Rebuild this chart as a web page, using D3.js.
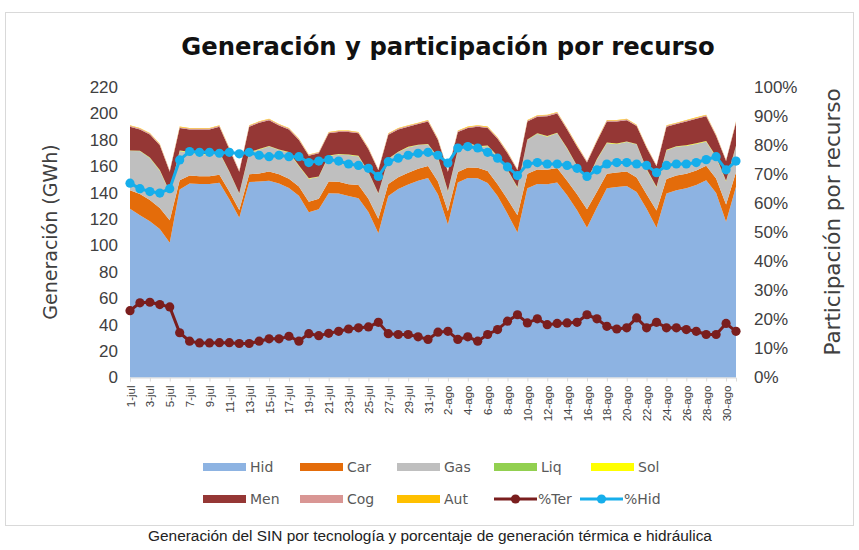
<!DOCTYPE html>
<html>
<head>
  <meta charset="utf-8">
  <title>Generación y participación por recurso</title>
  <style>
    body { margin: 0; background: #fff; }
    .tick text { fill: #404040; }
  </style>
  <script src="https://d3js.org/d3.v7.min.js"></script>
</head>
<body>
  <div id="chart"></div>
  <script>
    const days = [
      "1-jul","2-jul","3-jul","4-jul","5-jul","6-jul","7-jul","8-jul","9-jul","10-jul",
      "11-jul","12-jul","13-jul","14-jul","15-jul","16-jul","17-jul","18-jul","19-jul","20-jul",
      "21-jul","22-jul","23-jul","24-jul","25-jul","26-jul","27-jul","28-jul","29-jul","30-jul",
      "31-jul","1-ago","2-ago","3-ago","4-ago","5-ago","6-ago","7-ago","8-ago","9-ago",
      "10-ago","11-ago","12-ago","13-ago","14-ago","15-ago","16-ago","17-ago","18-ago","19-ago",
      "20-ago","21-ago","22-ago","23-ago","24-ago","25-ago","26-ago","27-ago","28-ago","29-ago",
      "30-ago","31-ago"
    ];

    // GWh por recurso
    const hid = [127.8,122.9,118.4,112.4,102.1,142.3,147.0,146.5,146.5,147.5,
      134.9,120.9,148.0,148.4,149.0,146.9,143.6,137.6,125.1,127.4,
      139.5,139.3,137.4,135.8,125.3,109.3,137.5,142.7,146.1,149.0,
      151.1,138.5,115.9,147.7,151.1,150.9,147.3,137.4,124.0,109.8,
      143.3,146.5,146.3,147.7,138.0,126.7,113.5,128.7,143.3,144.3,
      145.0,140.4,127.8,113.5,139.4,141.9,143.3,145.8,149.3,139.8,
      118.0,144.5];
    const car = [14,16,16,16,17,7,6,6,6,6,
      6,6,6,6,7,7,7,7,8,8,
      9,9,9,10,10,11,9,9,9,9,
      9,10,10,8,8,8,9,9,11,13,
      11,11,11,11,11,12,14,12,11,11,
      11,11,11,13,11,11,11,11,11,11,
      13,11];
    const gas = [29.7,32.4,31.7,28.2,21.0,22.1,17.4,16.3,16.3,16.7,
      14.7,12.2,16.1,18.1,18.9,18.3,19.6,15.4,17.3,16.4,
      19.1,20.5,22.0,21.6,20.1,18.8,18.7,18.8,19.1,17.8,
      16.3,18.0,14.8,16.3,18.4,15.7,18.9,20.8,22.0,20.9,
      25.5,27.0,25.0,26.2,24.3,21.2,21.2,24.2,23.1,21.4,
      22.3,25.0,18.7,17.4,21.5,21.8,21.0,20.1,18.3,16.0,
      17.5,19.6];
    const liq = [0.2,0.2,0.3,0.2,0.2,0.2,0.2,0.2,0.2,0.2,
      0.2,0.2,0.2,0.2,0.2,0.2,0.2,0.2,0.2,0.2,
      0.2,0.2,0.2,0.2,0.2,0.2,0.2,0.2,0.2,0.2,
      0.2,0.2,0.2,0.2,0.2,0.2,0.2,0.2,0.2,0.2,
      0.2,0.2,0.2,0.2,0.2,0.2,0.2,0.2,0.2,0.2,
      0.2,0.2,0.2,0.2,0.2,0.2,0.2,0.2,0.2,0.2,
      0.2,0.2];
    const sol = [0.3,0.3,0.3,0.3,0.3,0.3,0.3,0.3,0.3,0.3,
      0.3,0.3,0.3,0.3,0.3,0.3,0.3,0.3,0.3,0.3,
      0.3,0.3,0.3,0.3,0.3,0.3,0.3,0.3,0.3,0.3,
      0.3,0.3,0.3,0.3,0.3,0.3,0.3,0.3,0.3,0.3,
      0.3,0.3,0.3,0.3,0.3,0.3,0.3,0.3,0.3,0.3,
      0.3,0.3,0.3,0.3,0.3,0.3,0.3,0.3,0.3,0.3,
      0.3,0.3];
    const men = [17.9,16.1,17.3,18.8,15.3,17.0,17.0,18.6,18.6,19.2,
      16.8,16.3,19.3,19.9,19.5,18.2,17.2,19.4,17.0,17.6,
      16.8,16.6,17.0,17.0,17.0,17.3,18.2,16.9,15.2,15.6,
      17.0,12.9,14.7,13.4,10.9,14.8,13.2,13.2,12.4,12.7,
      13.6,12.5,15.1,14.5,14.1,14.5,13.7,13.5,16.0,16.7,
      16.1,13.5,15.9,15.5,17.5,16.7,18.1,18.5,18.8,15.6,
      14.9,17.3];
    const cog = [0.7,0.7,0.7,0.7,0.6,0.7,0.7,0.7,0.7,0.7,
      0.7,0.6,0.7,0.7,0.7,0.7,0.7,0.7,0.6,0.6,
      0.7,0.7,0.7,0.7,0.7,0.6,0.7,0.7,0.7,0.7,
      0.7,0.7,0.6,0.7,0.7,0.7,0.7,0.7,0.7,0.6,
      0.7,0.7,0.7,0.7,0.7,0.7,0.6,0.6,0.7,0.7,
      0.7,0.7,0.7,0.6,0.7,0.7,0.7,0.7,0.7,0.7,
      0.6,0.7];
    const aut = [0.4,0.4,0.4,0.4,0.3,0.4,0.4,0.4,0.4,0.4,
      0.4,0.3,0.4,0.4,0.4,0.4,0.4,0.4,0.3,0.3,
      0.4,0.4,0.4,0.4,0.4,0.3,0.4,0.4,0.4,0.4,
      0.4,0.4,0.3,0.4,0.4,0.4,0.4,0.4,0.4,0.3,
      0.4,0.4,0.4,0.4,0.4,0.4,0.3,0.3,0.4,0.4,
      0.4,0.4,0.4,0.3,0.4,0.4,0.4,0.4,0.4,0.4,
      0.3,0.4];

    // participación (%)
    const pctTer = [23.0,25.7,25.9,25.1,24.3,15.4,12.5,11.9,11.9,12.0,
      12.0,11.7,11.7,12.5,13.3,13.3,14.2,12.5,15.1,14.4,
      15.2,15.9,16.7,17.1,17.4,19.0,15.1,14.8,14.8,14.0,
      13.1,15.6,15.9,13.1,14.0,12.5,14.8,16.5,19.4,21.6,
      18.8,20.2,18.2,18.6,18.8,19.0,21.6,20.2,17.6,16.7,
      17.1,20.5,17.1,19.0,17.1,17.1,16.5,15.9,14.8,14.8,
      18.6,15.9];
    const pctHid = [66.9,65.0,64.0,63.5,65.0,74.9,77.8,77.5,77.5,77.2,
      77.5,77.0,77.5,76.5,76.0,76.5,76.0,76.0,74.0,74.5,
      75.0,74.5,73.5,73.0,72.0,69.2,74.3,75.5,76.5,77.2,
      77.5,76.5,73.8,79.0,79.5,79.0,77.5,75.5,72.5,69.5,
      73.5,74.0,73.5,73.5,73.0,72.0,69.2,71.5,73.5,74.0,
      74.0,73.5,73.0,70.5,73.0,73.5,73.5,74.0,75.0,76.0,
      71.5,74.5];

    const leftTicks = [0,20,40,60,80,100,120,140,160,180,200,220];
    const rightTicks = [0,10,20,30,40,50,60,70,80,90,100];

    const keys = ["Hid","Car","Gas","Liq","Sol","Men","Cog","Aut"];
    const colors = {
      Hid: "#8DB3E2", Car: "#E46C0A", Gas: "#BFBFBF", Liq: "#92D050",
      Sol: "#FFFF00", Men: "#953735", Cog: "#D99694", Aut: "#FFC000"
    };
    const terColor = "#7A1E1E";
    const hidColor = "#16AEEB";

    const table = days.map((d, i) => ({
      day: d, Hid: hid[i], Car: car[i], Gas: gas[i], Liq: liq[i],
      Sol: sol[i], Men: men[i], Cog: cog[i], Aut: aut[i],
      ter: pctTer[i], phid: pctHid[i]
    }));

    const width = 859, height = 550;
    const svg = d3.select("#chart").append("svg")
      .attr("width", width).attr("height", height)
      .style("font-family", "'DejaVu Sans', Verdana, sans-serif");

    // chart border
    svg.append("rect")
      .attr("x", 5.5).attr("y", 12.5)
      .attr("width", 848).attr("height", 513)
      .attr("fill", "#fff").attr("stroke", "#D9D9D9");

    const x = d3.scalePoint().domain(days).range([130, 736]);
    const y = d3.scaleLinear().domain([0, 220]).range([377.5, 87]);
    const yPct = d3.scaleLinear().domain([0, 100]).range([377.5, 87]);

    const stack = d3.stack().keys(keys);
    const series = stack(table);

    const area = d3.area()
      .x(d => x(d.data.day))
      .y0(d => y(d[0]))
      .y1(d => y(d[1]));

    svg.append("g").selectAll("path")
      .data(series)
      .enter().append("path")
      .attr("d", area)
      .attr("fill", d => colors[d.key]);

    // x axis
    const xAxis = svg.append("g")
      .attr("transform", "translate(0,377.5)")
      .call(d3.axisBottom(x)
        .tickValues(days.filter((d, i) => i % 2 === 0))
        .tickSize(4));
    xAxis.select(".domain").attr("stroke", "#D9D9D9");
    xAxis.selectAll(".tick line").attr("stroke", "#D9D9D9");
    xAxis.selectAll(".tick text")
      .attr("font-size", 11.5)
      .attr("fill", "#333")
      .attr("transform", "rotate(-90)")
      .attr("text-anchor", "end")
      .attr("x", -8).attr("y", 0)
      .attr("dy", "0.35em");

    // left axis
    const yAxis = svg.append("g")
      .attr("transform", "translate(118,0)")
      .call(d3.axisLeft(y).tickValues(leftTicks).tickSize(0).tickPadding(0));
    yAxis.select(".domain").remove();
    yAxis.selectAll(".tick text").attr("font-size", 17);

    // right axis
    const rAxis = svg.append("g")
      .attr("transform", "translate(754,0)")
      .call(d3.axisRight(yPct).tickValues(rightTicks).tickSize(0).tickPadding(0)
        .tickFormat(d => d + "%"));
    rAxis.select(".domain").remove();
    rAxis.selectAll(".tick text").attr("font-size", 17);

    // lines
    const addLine = (key, color) => {
      const line = d3.line().x(d => x(d.day)).y(d => yPct(d[key]));
      svg.append("path")
        .datum(table)
        .attr("d", line)
        .attr("fill", "none")
        .attr("stroke", color)
        .attr("stroke-width", 3);
      svg.append("g").selectAll("circle")
        .data(table)
        .enter().append("circle")
        .attr("cx", d => x(d.day))
        .attr("cy", d => yPct(d[key]))
        .attr("r", 4.6)
        .attr("fill", color);
    };
    addLine("ter", terColor);
    addLine("phid", hidColor);

    // titles
    svg.append("text")
      .attr("x", 448).attr("y", 55)
      .attr("text-anchor", "middle")
      .attr("font-size", 24.3)
      .attr("font-weight", "bold")
      .attr("fill", "#111")
      .text("Generación y participación por recurso");

    svg.append("text")
      .attr("transform", "translate(57,232) rotate(-90)")
      .attr("text-anchor", "middle")
      .attr("font-size", 19)
      .attr("fill", "#404040")
      .text("Generación (GWh)");

    svg.append("text")
      .attr("transform", "translate(840,222) rotate(-90)")
      .attr("text-anchor", "middle")
      .attr("font-size", 21.5)
      .attr("fill", "#404040")
      .text("Participación por recurso");

    // legend
    const legendItems = [
      { name: "Hid", type: "area", color: colors.Hid, x: 203, y: 467 },
      { name: "Car", type: "area", color: colors.Car, x: 300, y: 467 },
      { name: "Gas", type: "area", color: colors.Gas, x: 397, y: 467 },
      { name: "Liq", type: "area", color: colors.Liq, x: 494, y: 467 },
      { name: "Sol", type: "area", color: colors.Sol, x: 591, y: 467 },
      { name: "Men", type: "area", color: colors.Men, x: 203, y: 499 },
      { name: "Cog", type: "area", color: colors.Cog, x: 300, y: 499 },
      { name: "Aut", type: "area", color: colors.Aut, x: 397, y: 499 },
      { name: "%Ter", type: "line", color: terColor, x: 494, y: 499 },
      { name: "%Hid", type: "line", color: hidColor, x: 580, y: 499 }
    ];
    const lg = svg.append("g").selectAll("g")
      .data(legendItems)
      .enter().append("g")
      .attr("transform", d => `translate(${d.x},${d.y})`);
    lg.filter(d => d.type === "area").append("rect")
      .attr("x", 0).attr("y", -4).attr("width", 43).attr("height", 8)
      .attr("fill", d => d.color);
    lg.filter(d => d.type === "area").append("text")
      .attr("x", 47).attr("dy", "0.35em")
      .attr("font-size", 14).attr("fill", "#595959")
      .text(d => d.name);
    lg.filter(d => d.type === "line").append("line")
      .attr("x1", 0).attr("x2", 43).attr("y1", 0).attr("y2", 0)
      .attr("stroke", d => d.color).attr("stroke-width", 3);
    lg.filter(d => d.type === "line").append("circle")
      .attr("cx", 21.5).attr("cy", 0).attr("r", 4.6)
      .attr("fill", d => d.color);
    lg.filter(d => d.type === "line").append("text")
      .attr("x", 44).attr("dy", "0.35em")
      .attr("font-size", 14).attr("fill", "#595959")
      .text(d => d.name);

    // caption
    svg.append("text")
      .attr("x", 430).attr("y", 541)
      .attr("text-anchor", "middle")
      .attr("font-family", "'Liberation Sans', Arial, sans-serif")
      .attr("font-size", 15.4)
      .attr("fill", "#222")
      .text("Generación del SIN por tecnología y porcentaje de generación térmica e hidráulica");
  </script>
</body>
</html>
